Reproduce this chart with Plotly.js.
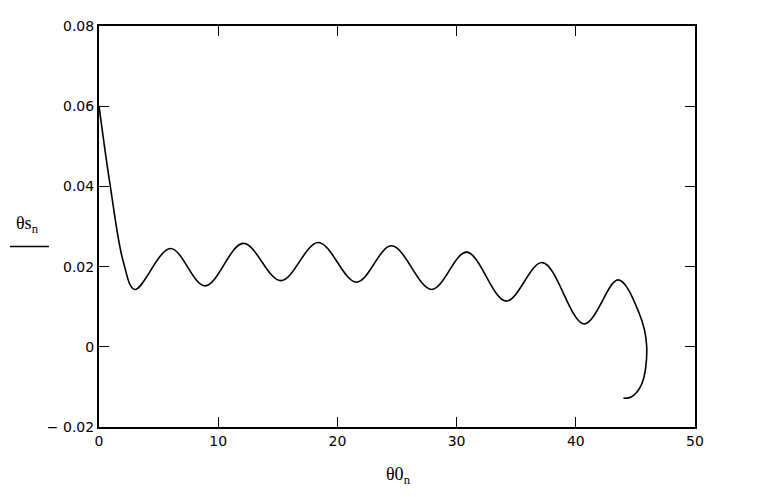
<!DOCTYPE html>
<html>
<head>
<meta charset="utf-8">
<script src="https://cdn.plot.ly/plotly-3.0.1.min.js"></script>
<style>
  html, body { margin: 0; padding: 0; background: #fff; }
  #plot { width: 760px; height: 497px; }
</style>
</head>
<body>
<div id="plot"></div>
<script>
// θ0_n vs θs_n (start, extrema, end hook)
const theta0 = [
  0.0, 0.95, 2.04, 3.0, 6.0, 8.9, 12.1, 15.25, 18.4, 21.6, 24.55, 27.9,
  30.85, 34.15, 37.2, 40.7, 43.55, 45.3, 45.95, 45.5, 44.6, 44.0
];
const thetaS = [
  0.0600, 0.0400, 0.0212, 0.0143, 0.0245, 0.0152, 0.0258, 0.0165, 0.0260, 0.0161, 0.0252, 0.0143,
  0.0236, 0.0114, 0.0210, 0.0057, 0.0167, 0.0085, 0.0000, -0.0095, -0.0126, -0.0128
];

const yTicks = [-0.02, 0, 0.02, 0.04, 0.06, 0.08];
const yTickText = ['\u2212 0.02', '0', '0.02', '0.04', '0.06', '0.08'];
const xTicks = [0, 10, 20, 30, 40, 50];

const trace = {
  x: theta0,
  y: thetaS,
  mode: 'lines',
  type: 'scatter',
  line: { color: '#000', width: 1.6, shape: 'spline', smoothing: 1 },
  hoverinfo: 'skip'
};

const axisStyle = {
  showline: true,
  linecolor: '#000',
  linewidth: 2,
  mirror: 'ticks',
  ticks: 'inside',
  ticklen: 10,
  tickwidth: 1.3,
  tickcolor: '#000',
  showgrid: false,
  zeroline: false,
  tickfont: { family: 'DejaVu Sans', size: 14, color: '#000' }
};

const layout = {
  width: 760,
  height: 497,
  margin: { l: 99, r: 65, t: 26, b: 70 },
  paper_bgcolor: '#fff',
  plot_bgcolor: '#fff',
  showlegend: false,
  xaxis: Object.assign({}, axisStyle, {
    range: [0, 50],
    tickvals: xTicks,
    ticktext: xTicks.map(String),
    fixedrange: true
  }),
  yaxis: Object.assign({}, axisStyle, {
    range: [-0.02, 0.08],
    tickvals: yTicks,
    ticktext: yTickText,
    fixedrange: true
  }),
  annotations: [
    {
      text: '\u03b8s<sub>n</sub>',
      xref: 'paper', yref: 'paper',
      x: -0.12, y: 0.472,
      xanchor: 'center', yanchor: 'bottom',
      showarrow: false,
      font: { family: 'Liberation Serif', size: 18, color: '#000' }
    },
    {
      text: '\u03b80<sub>n</sub>',
      xref: 'paper', yref: 'paper',
      x: 0.503, y: -0.088,
      xanchor: 'center', yanchor: 'top',
      showarrow: false,
      font: { family: 'Liberation Serif', size: 18, color: '#000' }
    }
  ],
  shapes: [
    {
      type: 'line', xref: 'paper', yref: 'paper',
      x0: -0.1495, x1: -0.0840,
      y0: 0.45, y1: 0.45,
      line: { color: '#000', width: 1.5 }
    }
  ]
};

Plotly.newPlot('plot', [trace], layout, { displayModeBar: false, staticPlot: true });
</script>
</body>
</html>
